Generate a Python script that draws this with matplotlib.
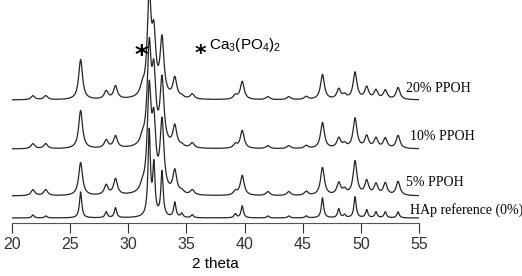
import numpy as np
import matplotlib
matplotlib.use('Agg')
import matplotlib.pyplot as plt

plt.rcParams['mathtext.default'] = 'regular'

# reflection positions (2 theta, deg) and peak heights
peaks = [21.8, 22.9, 25.9, 28.1, 28.9, 31.2, 31.8, 32.2, 32.9, 34.0, 34.6,
         35.5, 39.2, 39.8, 42.0, 43.8, 45.3, 46.7, 48.1, 48.6, 49.5, 50.5,
         51.3, 52.1, 53.2]
h_20 = [4, 4, 40, 8, 13, 8, 97, 55, 57, 20, 2, 5, 4, 18, 3, 3, 3, 25, 10, 4,
        27, 12, 9, 9, 12]
h_10 = [5, 5, 38, 8, 12, 6, 95, 65, 65, 21, 2, 5, 4, 18, 3, 3, 3, 26, 10, 4,
        30, 12, 10, 10, 13]
h_5 = [6, 6, 33, 10, 16, 5, 100, 62, 70, 23, 3, 5, 4, 20, 4, 4, 4, 28, 12, 5,
       34, 14, 11, 12, 14]
h_0 = [3, 2, 26, 6, 10, 0, 85, 50, 45, 15, 4, 3, 4, 12, 2, 2, 2, 20, 9, 3,
       21, 8, 6, 6, 6]

offsets = [118, 69, 22, 0]
labels = ['20% PPOH', '10% PPOH', '5% PPOH', 'HAp reference (0%)']
label_pos = [(53.9, 130), (54.2, 81), (53.9, 35), (54.2, 8)]
widths = [0.2, 0.2, 0.2, 0.12]

x = np.linspace(20, 55, 3500)


def pattern(heights, w):
    y = np.zeros_like(x)
    for c, h in zip(peaks, heights):
        y += h / (1 + ((x - c) / w) ** 2)
    return y


fig = plt.figure(figsize=(5.22, 2.76), dpi=100)
ax = fig.add_axes([12 / 522, 53 / 276, 407 / 522, 223 / 276])

for hs, off, w in zip([h_20, h_10, h_5, h_0], offsets, widths):
    ax.plot(x, pattern(hs, w) + off, color='#262626', lw=0.9)

for lab, (lx, ly) in zip(labels, label_pos):
    ax.text(lx, ly, lab, family='Liberation Serif', fontsize=10,
            va='center', ha='left', clip_on=False)

ax.text(31.1, 161, '*', family='DejaVu Sans', fontsize=19,
        fontweight='bold', ha='center', va='center')
ax.text(36.2, 164, '*', family='DejaVu Sans', fontsize=16,
        fontweight='bold', ha='center', va='center')
ax.text(36.9, 173, 'Ca$_3$(PO$_4$)$_2$', family='Liberation Sans',
        fontsize=11, ha='left', va='center')

ax.set_xlim(20, 55)
ax.set_ylim(-5, 218)
ax.set_xticks([20, 25, 30, 35, 40, 45, 50, 55])
for lbl in ax.get_xticklabels():
    lbl.set_family('Liberation Sans')
ax.tick_params(axis='x', direction='out', length=7, width=0.8,
               labelsize=11.5, pad=3, colors='#333333')
ax.set_yticks([])
for s in ['top', 'left', 'right']:
    ax.spines[s].set_visible(False)
ax.spines['bottom'].set_color('#555555')
ax.set_xlabel('2 theta', family='Liberation Sans', fontsize=11, labelpad=4)
ax.patch.set_alpha(0)

plt.savefig('out.png', dpi=100)
